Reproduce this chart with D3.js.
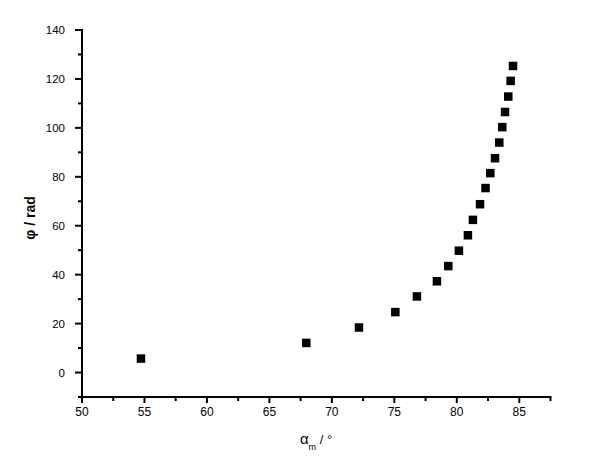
<!DOCTYPE html>
<html>
<head>
<meta charset="utf-8">
<script src="https://cdn.jsdelivr.net/npm/d3@7"></script>
<style>
body { margin: 0; background: #fff; }
svg { display: block; font-family: Arial, "Liberation Sans", sans-serif; }
</style>
</head>
<body>
<svg id="chart" width="603" height="466"></svg>
<script>
// data
var alphaM = [54.72, 67.95, 72.17, 75.08, 76.81, 78.41, 79.32, 80.17, 80.89, 81.29,
              81.86, 82.30, 82.68, 83.06, 83.40, 83.64, 83.86, 84.12, 84.31, 84.50];
var phi = [5.7, 12.1, 18.4, 24.7, 31.1, 37.3, 43.5, 49.8, 56.1, 62.4,
           68.8, 75.4, 81.5, 87.6, 94.0, 100.3, 106.5, 112.8, 119.2, 125.3];
var xTicks = [50, 55, 60, 65, 70, 75, 80, 85];
var xMinor = [52.5, 57.5, 62.5, 67.5, 72.5, 77.5, 82.5, 87.5];
var yTicks = [0, 20, 40, 60, 80, 100, 120, 140];
var yMinor = [-10, 10, 30, 50, 70, 90, 110, 130];

var svg = d3.select('#chart');
var x = d3.scaleLinear().domain([50, 87.5]).range([82, 550.5]);
var y = d3.scaleLinear().domain([-10, 140]).range([397, 30]);

// x axis
var gx = svg.append('g').attr('transform', 'translate(0,' + y(-10) + ')');
gx.append('line').attr('x1', x(50) - 1).attr('x2', x(87.5) + 1)
  .attr('stroke', '#000').attr('stroke-width', 2);
gx.selectAll('.maj').data(xTicks).enter().append('line')
  .attr('x1', function(d) { return x(d); }).attr('x2', function(d) { return x(d); })
  .attr('y1', 0).attr('y2', 6).attr('stroke', '#000').attr('stroke-width', 2);
gx.selectAll('.min').data(xMinor).enter().append('line')
  .attr('x1', function(d) { return x(d); }).attr('x2', function(d) { return x(d); })
  .attr('y1', 0).attr('y2', 4).attr('stroke', '#000').attr('stroke-width', 2);
gx.selectAll('text').data(xTicks).enter().append('text')
  .attr('x', function(d) { return x(d); }).attr('y', 19)
  .attr('text-anchor', 'middle').attr('font-size', 12).text(function(d) { return d; });

// y axis
var gy = svg.append('g').attr('transform', 'translate(' + x(50) + ',0)');
gy.append('line').attr('y1', y(140) - 1).attr('y2', y(-10) + 1)
  .attr('stroke', '#000').attr('stroke-width', 2);
gy.selectAll('.maj').data(yTicks).enter().append('line')
  .attr('y1', function(d) { return y(d); }).attr('y2', function(d) { return y(d); })
  .attr('x1', 0).attr('x2', -7).attr('stroke', '#000').attr('stroke-width', 2);
gy.selectAll('.min').data(yMinor).enter().append('line')
  .attr('y1', function(d) { return y(d); }).attr('y2', function(d) { return y(d); })
  .attr('x1', 0).attr('x2', -4).attr('stroke', '#000').attr('stroke-width', 2);
gy.selectAll('text').data(yTicks).enter().append('text')
  .attr('x', -17).attr('y', function(d) { return y(d) + 4; })
  .attr('text-anchor', 'end').attr('font-size', 11.5).text(function(d) { return d; });

// axis titles
var xt = svg.append('text').attr('x', 316).attr('y', 444)
  .attr('text-anchor', 'middle').attr('font-size', 13);
xt.append('tspan').attr('font-size', 15).text('α');
xt.append('tspan').attr('font-size', 9).attr('dy', 6).text('m');
xt.append('tspan').attr('dy', -6).text(' / °');

svg.append('text').attr('transform', 'translate(35,218) rotate(-90)')
  .attr('text-anchor', 'middle').attr('font-size', 14).attr('font-weight', 'bold')
  .text('φ / rad');

// points
var s = 8.5;
svg.selectAll('rect.pt').data(alphaM).enter().append('rect')
  .attr('class', 'pt')
  .attr('x', function(d) { return x(d) - s / 2; })
  .attr('y', function(d, i) { return y(phi[i]) - s / 2; })
  .attr('width', s).attr('height', s).attr('fill', '#000');
</script>
</body>
</html>
